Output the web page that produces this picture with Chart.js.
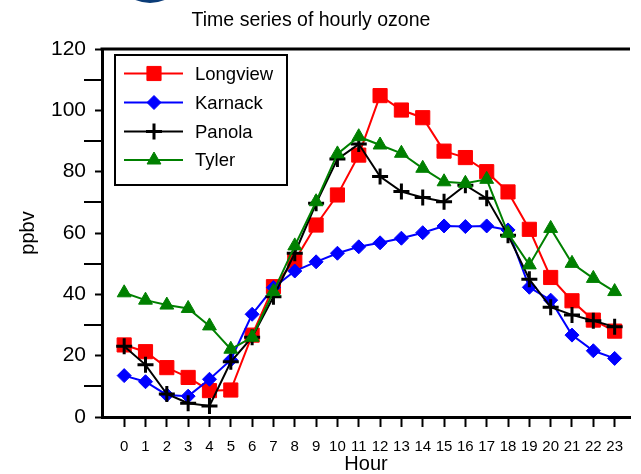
<!DOCTYPE html>
<html>
<head>
<meta charset="utf-8">
<script src="https://cdn.jsdelivr.net/npm/chart.js@4/dist/chart.umd.min.js"></script>
<style>
  html, body { margin: 0; padding: 0; background: #fff; }
  #wrap { position: relative; width: 641px; height: 474px; overflow: hidden; }
  #badge { position: absolute; left: 114px; top: -69px; width: 72px; height: 72px;
           border-radius: 50%; background: #0b3c78; }
  canvas { display: block; }
</style>
</head>
<body>
<div id="wrap">
  <canvas id="chart" width="641" height="474"></canvas>
  <div id="badge"></div>
</div>
<script>
// Hour of day
const hours = [0, 1, 2, 3, 4, 5, 6, 7, 8, 9, 10, 11, 12, 13, 14, 15, 16, 17, 18, 19, 20, 21, 22, 23];

// Hourly ozone, ppbv
const longview = [23.5, 21.3, 16.1, 12.9, 8.6, 8.8, 26.7, 42.5, 51.0, 62.6, 72.4, 85.4,
                  104.8, 100.1, 97.6, 86.7, 84.6, 80.0, 73.4, 61.2, 45.5, 37.9, 31.6, 28.0];
const karnack  = [13.5, 11.5, 7.2, 6.8, 12.3, 18.6, 33.5, 42.2, 47.6, 50.6, 53.4, 55.5,
                  56.8, 58.3, 60.1, 62.3, 62.1, 62.3, 61.0, 42.3, 38.1, 26.7, 21.6, 19.1];
const panola   = [23.1, 17.0, 7.5, 4.5, 3.6, 18.0, 26.0, 39.2, 53.4, 69.7, 84.1, 89.0,
                  78.4, 73.5, 71.6, 70.2, 75.6, 71.3, 59.3, 44.9, 35.8, 33.3, 31.4, 29.4];
const tyler    = [40.5, 38.1, 36.5, 35.4, 29.7, 22.1, 26.0, 40.9, 55.8, 70.2, 85.8, 91.4,
                  88.7, 86.0, 81.1, 76.7, 76.2, 77.5, 59.9, 49.6, 61.5, 50.1, 45.2, 40.9];

const seriesNames = ['Longview', 'Karnack', 'Panola', 'Tyler'];
const yTicks = [0, 20, 40, 60, 80, 100, 120];
const yMinorTicks = [10, 30, 50, 70, 90, 110];

const FONT = '"Liberation Sans", Arial, Helvetica, sans-serif';
Chart.defaults.font.family = FONT;
Chart.defaults.color = '#000';

const styles = [
  { color: '#ff0000', point: 'rect',    radius: 10, pbw: 1, order: 4 },
  { color: '#0000ff', point: 'rectRot', radius: 7,  pbw: 1, order: 3 },
  { color: '#000000', point: 'cross',   radius: 8,  pbw: 3, order: 2 },
  { color: '#008000', point: 'triangle',radius: 8,  pbw: 1, order: 1 }
];
const values = [longview, karnack, panola, tyler];

const datasets = values.map((vals, i) => ({
  label: seriesNames[i],
  data: hours.map((h, k) => ({ x: h, y: vals[k] })),
  borderColor: styles[i].color,
  backgroundColor: styles[i].color,
  borderWidth: 2,
  pointStyle: styles[i].point,
  pointRadius: styles[i].radius,
  pointBorderWidth: styles[i].pbw,
  pointBackgroundColor: styles[i].color,
  pointBorderColor: styles[i].color,
  tension: 0,
  order: styles[i].order,
  clip: false
}));

// Marker shapes for the legend (same geometry as the chart points)
function marker(ctx, style, x, y, r, color, lw) {
  ctx.save();
  ctx.fillStyle = color;
  ctx.strokeStyle = color;
  ctx.lineWidth = lw;
  ctx.beginPath();
  if (style === 'rect') {
    const s = Math.SQRT1_2 * r;
    ctx.rect(x - s, y - s, 2 * s, 2 * s);
    ctx.fill(); ctx.stroke();
  } else if (style === 'rectRot') {
    ctx.moveTo(x - r, y); ctx.lineTo(x, y - r); ctx.lineTo(x + r, y); ctx.lineTo(x, y + r);
    ctx.closePath(); ctx.fill(); ctx.stroke();
  } else if (style === 'cross') {
    ctx.moveTo(x - r, y); ctx.lineTo(x + r, y);
    ctx.moveTo(x, y - r); ctx.lineTo(x, y + r);
    ctx.stroke();
  } else if (style === 'triangle') {
    let a = 0;
    ctx.moveTo(x + Math.sin(a) * r, y - Math.cos(a) * r);
    a += 2 * Math.PI / 3;
    ctx.lineTo(x + Math.sin(a) * r, y - Math.cos(a) * r);
    a += 2 * Math.PI / 3;
    ctx.lineTo(x + Math.sin(a) * r, y - Math.cos(a) * r);
    ctx.closePath(); ctx.fill(); ctx.stroke();
  }
  ctx.restore();
}

const decorations = {
  id: 'decorations',
  afterDraw(chart) {
    const ctx = chart.ctx;
    const area = chart.chartArea;
    const yScale = chart.scales.y;
    ctx.save();

    // top frame line
    ctx.strokeStyle = '#000';
    ctx.lineWidth = 3;
    ctx.beginPath();
    ctx.moveTo(area.left - 1.5, area.top);
    ctx.lineTo(area.right, area.top);
    ctx.stroke();

    // long minor ticks on the y axis
    ctx.lineWidth = 2;
    yMinorTicks.forEach(v => {
      const py = Math.round(yScale.getPixelForValue(v));
      ctx.beginPath();
      ctx.moveTo(84, py);
      ctx.lineTo(area.left, py);
      ctx.stroke();
    });

    // title
    ctx.fillStyle = '#000';
    ctx.font = '19.5px ' + FONT;
    ctx.textAlign = 'center';
    ctx.textBaseline = 'middle';
    ctx.fillText('Time series of hourly ozone', 311, 21);

    // legend box
    ctx.lineWidth = 2;
    ctx.strokeRect(115, 55, 172, 130);
    ctx.font = '18.5px ' + FONT;
    ctx.textAlign = 'left';
    const rowY = [73.5, 102.5, 131.5, 160];
    seriesNames.forEach((name, i) => {
      const y = rowY[i];
      ctx.strokeStyle = styles[i].color;
      ctx.lineWidth = 2;
      ctx.beginPath();
      ctx.moveTo(124, y);
      ctx.lineTo(183, y);
      ctx.stroke();
      marker(ctx, styles[i].point, 154, y, styles[i].radius, styles[i].color, styles[i].pbw);
      ctx.fillStyle = '#000';
      ctx.fillText(name, 195, y + 1);
    });
    ctx.restore();
  }
};

new Chart(document.getElementById('chart'), {
  type: 'line',
  data: { datasets },
  options: {
    responsive: false,
    animation: false,
    devicePixelRatio: 1,
    layout: { padding: { top: 49, left: 0, right: 0, bottom: 0 } },
    plugins: {
      legend: { display: false },
      title: { display: false },
      tooltip: { enabled: false }
    },
    scales: {
      x: {
        type: 'linear',
        min: -1.04,
        max: 23.72,
        afterBuildTicks: s => { s.ticks = hours.map(v => ({ value: v })); },
        afterFit: s => { s.height = 57; },
        ticks: {
          autoSkip: false, maxRotation: 0, minRotation: 0,
          font: { size: 15 }, color: '#000', padding: 11,
          callback: v => String(v)
        },
        grid: { drawOnChartArea: false, tickLength: 10, tickWidth: 2, tickColor: '#000' },
        border: { display: true, color: '#000', width: 3 },
        title: { display: true, text: 'Hour', font: { size: 20, lineHeight: 1 }, padding: 0, color: '#000' }
      },
      y: {
        min: 0,
        max: 120,
        afterBuildTicks: s => { s.ticks = yTicks.map(v => ({ value: v })); },
        afterFit: s => { s.width = 102; },
        ticks: { font: { size: 21 }, color: '#000', padding: 9 },
        grid: { drawOnChartArea: false, tickLength: 7, tickWidth: 2, tickColor: '#000' },
        border: { display: true, color: '#000', width: 3 },
        title: { display: true, text: 'ppbv', font: { size: 20, lineHeight: 1 }, padding: { top: 18, bottom: 0 }, color: '#000' }
      }
    }
  },
  plugins: [decorations]
});
</script>
</body>
</html>
